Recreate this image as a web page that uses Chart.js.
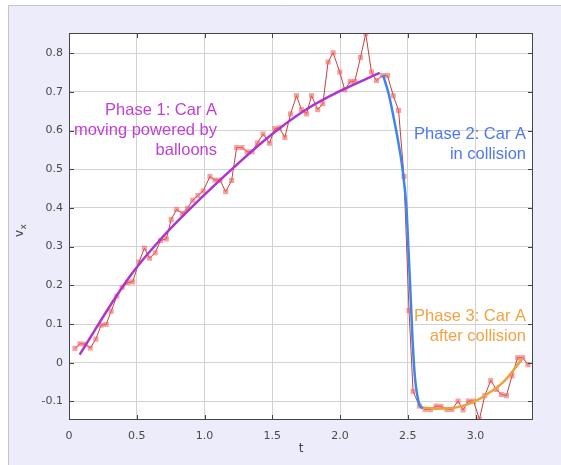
<!DOCTYPE html>
<html>
<head>
<meta charset="utf-8">
<script src="https://cdn.jsdelivr.net/npm/chart.js@4.4.1/dist/chart.umd.min.js"></script>
<style>
  html, body { margin: 0; padding: 0; background: #ffffff; }
  #wrap { position: relative; width: 561px; height: 465px; }
</style>
</head>
<body>
<div id="wrap"><canvas id="vxChart" width="561" height="465"></canvas></div>
<script>
// measured points (t in s, vx in m/s)
let tData = [0.044, 0.081, 0.118, 0.157, 0.198, 0.237, 0.274, 0.311, 0.353, 0.393, 0.434, 0.470, 0.516, 0.557, 0.594, 0.636, 0.676, 0.718, 0.754, 0.794,
  0.837, 0.874, 0.913, 0.951, 0.990, 1.040, 1.077, 1.114, 1.156, 1.200, 1.237, 1.276, 1.314, 1.351, 1.390, 1.433, 1.479, 1.519, 1.552, 1.593,
  1.635, 1.679, 1.715, 1.753, 1.790, 1.835, 1.873, 1.912, 1.949, 1.998, 2.035, 2.076, 2.109, 2.151, 2.190, 2.232, 2.269, 2.313, 2.350, 2.393,
  2.432, 2.472, 2.509, 2.539, 2.586, 2.628, 2.668, 2.709, 2.745, 2.789, 2.826, 2.871, 2.908, 2.948, 2.985, 3.029, 3.068, 3.112, 3.154, 3.190,
  3.228, 3.269, 3.311, 3.348, 3.387];
let vData = [0.037, 0.049, 0.048, 0.038, 0.061, 0.097, 0.099, 0.133, 0.172, 0.195, 0.207, 0.209, 0.260, 0.296, 0.270, 0.284, 0.316, 0.320, 0.370, 0.396,
  0.386, 0.399, 0.420, 0.432, 0.444, 0.481, 0.472, 0.472, 0.442, 0.471, 0.556, 0.556, 0.545, 0.545, 0.568, 0.591, 0.567, 0.605, 0.607, 0.582,
  0.643, 0.690, 0.654, 0.643, 0.690, 0.654, 0.669, 0.777, 0.801, 0.751, 0.705, 0.727, 0.727, 0.789, 0.850, 0.751, 0.729, 0.742, 0.742, 0.690,
  0.652, 0.481, 0.135, -0.074, -0.112, -0.121, -0.121, -0.112, -0.113, -0.121, -0.121, -0.099, -0.122, -0.099, -0.099, -0.146, -0.085, -0.046, -0.069, -0.082,
  -0.085, -0.034, 0.013, 0.013, -0.005];

// fitted curves
let phase1T = [0.079, 0.426, 0.671, 0.917, 1.261, 1.507, 1.753, 2.006, 2.293];
let phase1V = [0.021, 0.212, 0.317, 0.406, 0.519, 0.593, 0.655, 0.703, 0.749];
let phase2T = [2.318, 2.360, 2.392, 2.430, 2.465, 2.490, 2.506, 2.522, 2.535, 2.552, 2.571, 2.588, 2.610];
let phase2V = [0.743, 0.693, 0.640, 0.570, 0.490, 0.400, 0.285, 0.165, 0.060, -0.035, -0.086, -0.110, -0.118];
let phase3T = [2.600, 2.720, 2.850, 2.970, 3.090, 3.210, 3.340];
let phase3V = [-0.116, -0.119, -0.116, -0.104, -0.080, -0.048, 0.008];

let xTicks = [0, 0.5, 1.0, 1.5, 2.0, 2.5, 3.0];
let xTickLabels = ['0', '0.5', '1.0', '1.5', '2.0', '2.5', '3.0'];
let yTicks = [-0.1, 0, 0.1, 0.2, 0.3, 0.4, 0.5, 0.6, 0.7, 0.8];
let yTickLabels = ['-0.1', '0', '0.1', '0.2', '0.3', '0.4', '0.5', '0.6', '0.7', '0.8'];

let phaseNotes = [
  { lines: ['Phase 1: Car A', 'moving powered by', 'balloons'], color: '#c03fd4', right: 217, top: 115 },
  { lines: ['Phase 2: Car A', 'in collision'], color: '#4d78f0', right: 526, top: 139 },
  { lines: ['Phase 3: Car A', 'after collision'], color: '#f4a242', right: 526, top: 321 }
];

let toXY = (ts, vs) => ts.map((t, i) => ({ x: t, y: vs[i] }));

let curveSet = (ts, vs, color, mode) => {
  return {
    data: toXY(ts, vs),
    showLine: true,
    borderColor: color,
    borderWidth: 2.5,
    pointRadius: 0,
    tension: 0.4,
    cubicInterpolationMode: mode,
    order: 1
  };
}

// panel background, frame, inner ticks, titles and notes
const framePlugin = {
  id: 'frame',
  beforeDraw(chart) {
    let ctx = chart.ctx;
    let a = chart.chartArea;
    ctx.save();
    ctx.fillStyle = '#ffffff';
    ctx.fillRect(0, 0, chart.width, chart.height);
    ctx.fillStyle = '#ececfb';
    ctx.fillRect(8, 5, chart.width - 8, chart.height - 5);
    ctx.strokeStyle = '#c4c4cc';
    ctx.lineWidth = 1;
    ctx.beginPath();
    ctx.moveTo(8.5, chart.height);
    ctx.lineTo(8.5, 5.5);
    ctx.lineTo(chart.width, 5.5);
    ctx.stroke();
    ctx.fillStyle = '#ffffff';
    ctx.fillRect(a.left, a.top, a.right - a.left, a.bottom - a.top);
    ctx.restore();
  },
  afterDraw(chart) {
    let ctx = chart.ctx;
    let a = chart.chartArea;
    let xs = chart.scales.x;
    let ys = chart.scales.y;
    ctx.save();
    ctx.strokeStyle = '#444444';
    ctx.lineWidth = 1;
    ctx.strokeRect(a.left + 0.5, a.top + 0.5, a.right - a.left - 1, a.bottom - a.top - 1);

    ctx.beginPath();
    xTicks.forEach(v => {
      let px = Math.round(xs.getPixelForValue(v)) + 0.5;
      ctx.moveTo(px, a.bottom); ctx.lineTo(px, a.bottom - 5);
      ctx.moveTo(px, a.top); ctx.lineTo(px, a.top + 5);
    });
    yTicks.forEach(v => {
      let py = Math.round(ys.getPixelForValue(v)) + 0.5;
      ctx.moveTo(a.left, py); ctx.lineTo(a.left + 5, py);
      ctx.moveTo(a.right, py); ctx.lineTo(a.right - 5, py);
    });
    ctx.stroke();

    // axis titles
    ctx.fillStyle = '#444444';
    ctx.font = '12px "DejaVu Sans"';
    ctx.textAlign = 'center';
    ctx.textBaseline = 'alphabetic';
    ctx.fillText('t', (a.left + a.right) / 2, 452);

    ctx.translate(23, 231);
    ctx.rotate(-Math.PI / 2);
    ctx.textAlign = 'left';
    ctx.fillText('v', -6, 0);
    ctx.font = '9px "DejaVu Sans"';
    ctx.fillText('x', 1.5, 3);
    ctx.setTransform(1, 0, 0, 1, 0, 0);

    // phase notes
    ctx.font = '16.5px "Liberation Sans", Arial, sans-serif';
    ctx.textAlign = 'right';
    phaseNotes.forEach(n => {
      ctx.fillStyle = n.color;
      n.lines.forEach((line, i) => ctx.fillText(line, n.right, n.top + i * 20));
    });
    ctx.restore();
  }
};

const ctx = document.getElementById('vxChart').getContext('2d');

let myChart = new Chart(ctx, {
  type: 'scatter',
  data: {
    datasets: [
      curveSet(phase1T, phase1V, '#b033cc', 'default'),
      curveSet(phase2T, phase2V, '#3d86ee', 'monotone'),
      curveSet(phase3T, phase3V, '#f0a03c', 'monotone'),
      {
        data: toXY(tData, vData),
        showLine: true,
        borderColor: '#c8403c',
        borderWidth: 1,
        pointStyle: 'rect',
        pointRadius: 3.6,
        pointBorderWidth: 0,
        pointBackgroundColor: 'rgba(242, 96, 96, 0.6)',
        tension: 0,
        order: 10
      }
    ]
  },
  options: {
    responsive: false,
    animation: false,
    events: [],
    layout: { padding: { left: 0, top: 33, right: 28, bottom: 0 } },
    plugins: { legend: { display: false }, tooltip: { enabled: false } },
    scales: {
      x: {
        type: 'linear',
        min: 0,
        max: 3.424,
        afterFit: s => { s.height = 45; },
        afterBuildTicks: s => { s.ticks = xTicks.map(v => ({ value: v })); },
        grid: { color: '#d2d2d2', drawTicks: false },
        border: { display: false },
        ticks: {
          padding: 10,
          color: '#4a4a4a',
          font: { family: 'DejaVu Sans', size: 11 },
          callback: (val, i) => xTickLabels[i]
        }
      },
      y: {
        type: 'linear',
        min: -0.148,
        max: 0.852,
        afterFit: s => { s.width = 69; },
        afterBuildTicks: s => { s.ticks = yTicks.map(v => ({ value: v })); },
        grid: { color: '#d2d2d2', drawTicks: false },
        border: { display: false },
        ticks: {
          padding: 6,
          color: '#4a4a4a',
          font: { family: 'DejaVu Sans', size: 11 },
          callback: (val, i) => yTickLabels[i]
        }
      }
    }
  },
  plugins: [framePlugin]
});
</script>
</body>
</html>
